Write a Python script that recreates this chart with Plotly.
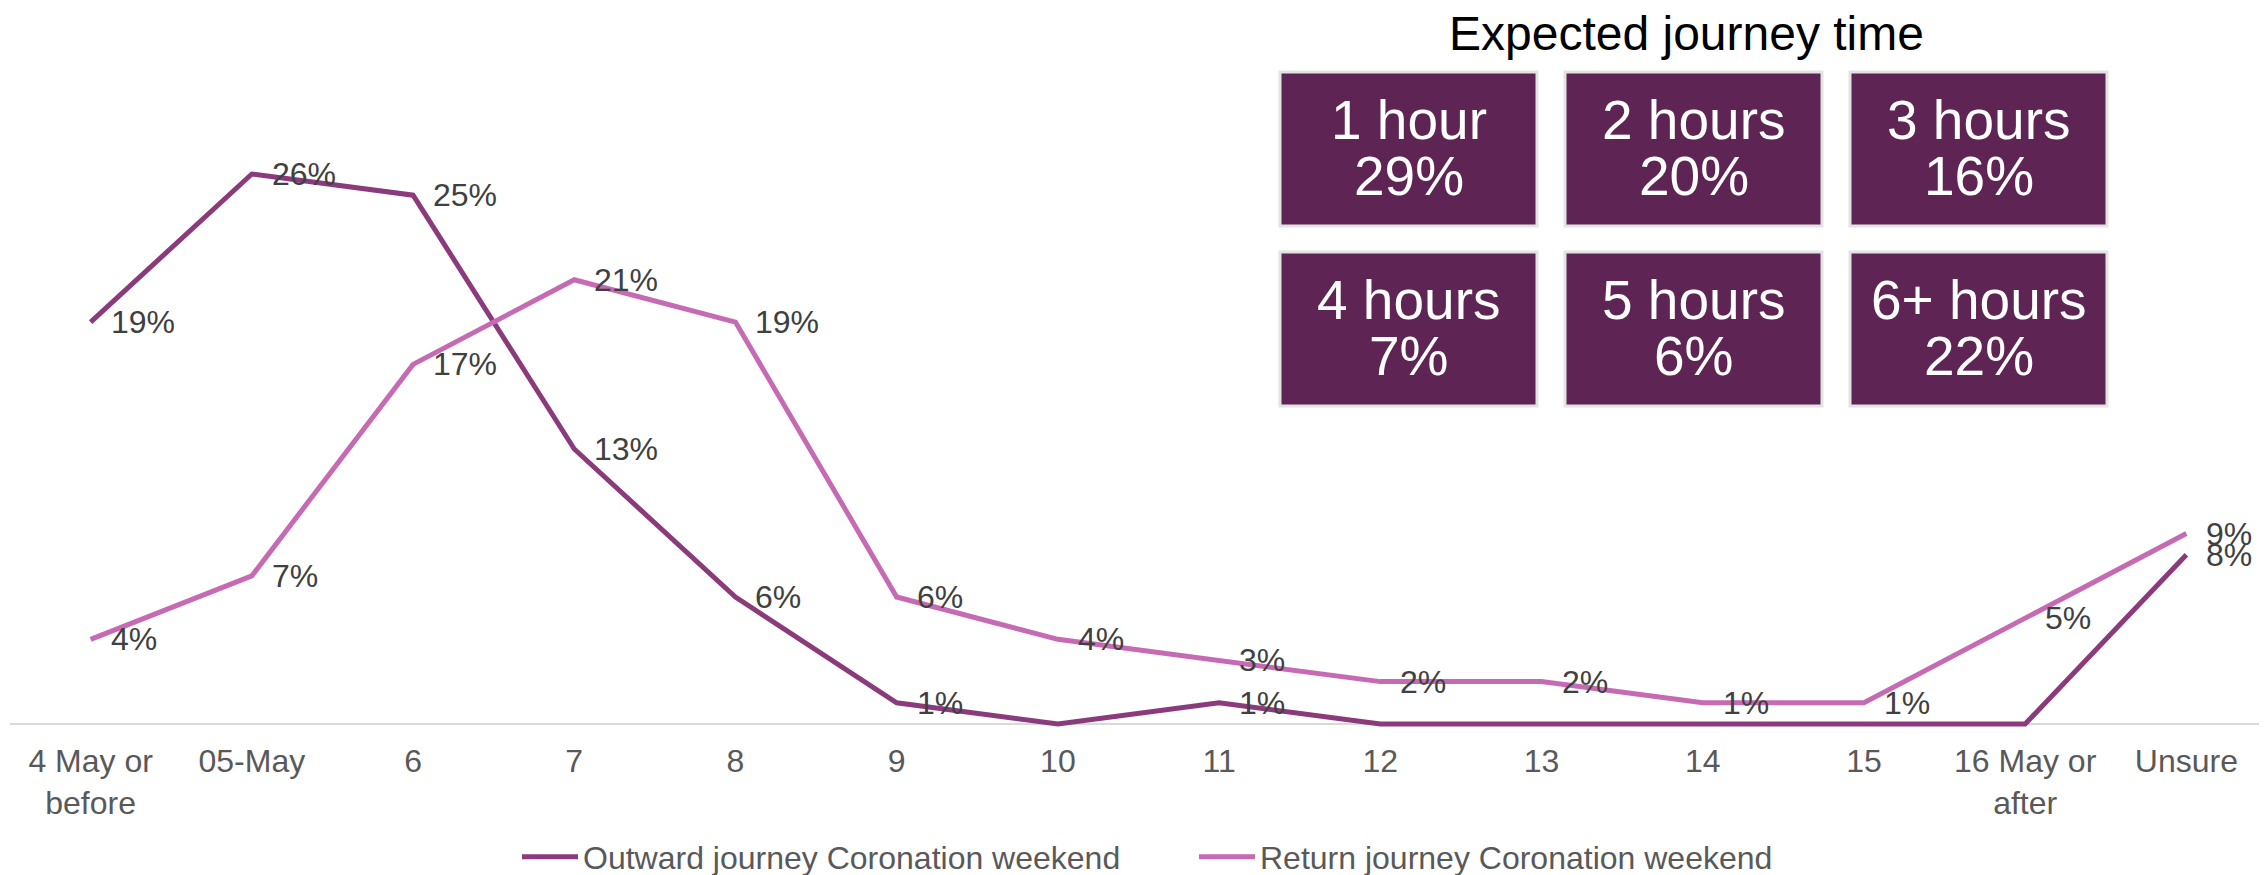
import plotly.graph_objects as go

# ---------------- data ----------------
categories = ["4 May or<br>before", "05-May", "6", "7", "8", "9", "10", "11",
              "12", "13", "14", "15", "16 May or<br>after", "Unsure"]
outward = [19, 26, 25, 13, 6, 1, 0, 1, 0, 0, 0, 0, 0, 8]
return_ = [4, 7, 17, 21, 19, 6, 4, 3, 2, 2, 1, 1, 5, 9]
series_names = ["Outward journey Coronation weekend", "Return journey Coronation weekend"]
box_labels = ["1 hour", "2 hours", "3 hours", "4 hours", "5 hours", "6+ hours"]
box_values = [29, 20, 16, 7, 6, 22]
panel_title = "Expected journey time"

# ---------------- style ----------------
OFF = 8                      # default page body margin
W, H = 2267 - OFF, 875 - OFF
ML, MR, MT, MB = 2, 0, 0, 146
FONT = "Liberation Sans, Arial, sans-serif"
C_OUT = "#8B3A7C"
C_RET = "#C66BB3"
C_BOX = "#5E2453"
LABEL_C = "#404040"
AXIS_C = "#595959"

fig = go.Figure()
for name, vals, col in [(series_names[0], outward, C_OUT), (series_names[1], return_, C_RET)]:
    fig.add_trace(go.Scatter(
        x=categories, y=vals, mode="lines", name=name,
        line=dict(color=col, width=5),
        hoverinfo="skip",
    ))

annotations = []
# data labels (zeros are not labelled)
for vals in (outward, return_):
    for i, v in enumerate(vals):
        if v == 0:
            continue
        annotations.append(dict(
            x=i, y=v, xref="x", yref="y", text=f"{v}%", showarrow=False,
            xanchor="left", yanchor="middle", xshift=18,
            font=dict(family=FONT, size=32, color=LABEL_C),
        ))

# screen pixel -> paper conversion (layout decoration only)
pw = W - ML - MR
ph = H - MT - MB
def px(xs):
    return (xs - OFF - ML) / pw
def py(ys):
    return (H - MB - (ys - OFF)) / ph

shapes = []
box_left = [1280, 1565, 1850]
box_w = 257
row_top = [72, 252]
box_h = 154
for k, (lab, val) in enumerate(zip(box_labels, box_values)):
    r, c = divmod(k, 3)
    x0 = box_left[c]
    y0 = row_top[r]
    shapes.append(dict(
        type="rect", xref="paper", yref="paper",
        x0=px(x0), x1=px(x0 + box_w), y0=py(y0 + box_h), y1=py(y0),
        fillcolor=C_BOX, line=dict(color="#E3E3E3", width=3), layer="above",
    ))
    cx = px(x0 + box_w / 2)
    annotations.append(dict(
        x=cx, y=py(y0 + 48), xref="paper", yref="paper", text=lab,
        showarrow=False, xanchor="center", yanchor="middle",
        font=dict(family=FONT, size=55, color="white"),
    ))
    annotations.append(dict(
        x=cx, y=py(y0 + 104), xref="paper", yref="paper", text=f"{val}%",
        showarrow=False, xanchor="center", yanchor="middle",
        font=dict(family=FONT, size=55, color="white"),
    ))

annotations.append(dict(
    x=px(1686), y=py(34), xref="paper", yref="paper", text=panel_title,
    showarrow=False, xanchor="center", yanchor="middle",
    font=dict(family=FONT, size=48, color="black"),
))

fig.update_layout(
    width=W, height=H,
    margin=dict(l=ML, r=MR, t=MT, b=MB, autoexpand=False),
    paper_bgcolor="white", plot_bgcolor="white",
    font=dict(family=FONT, size=32, color=AXIS_C),
    showlegend=True,
    legend=dict(
        orientation="h", x=px(517), xanchor="left", y=py(857), yanchor="middle",
        font=dict(family=FONT, size=32, color=AXIS_C),
        itemwidth=56,
        entrywidth=606, entrywidthmode="pixels",
        bgcolor="rgba(0,0,0,0)",
    ),
    xaxis=dict(
        type="category", range=[-0.5, 13.5], showgrid=False, zeroline=False,
        showline=False, ticks="", ticklabelstandoff=10,
        tickfont=dict(family=FONT, size=32, color=AXIS_C),
        fixedrange=True,
    ),
    yaxis=dict(
        range=[-0.24, 33.85], showgrid=False, zeroline=True, zerolinecolor="#D9D9D9",
        zerolinewidth=2, showticklabels=False, ticks="", showline=False,
        fixedrange=True,
    ),
    annotations=annotations,
    shapes=shapes,
)

fig.write_html("out.html")
